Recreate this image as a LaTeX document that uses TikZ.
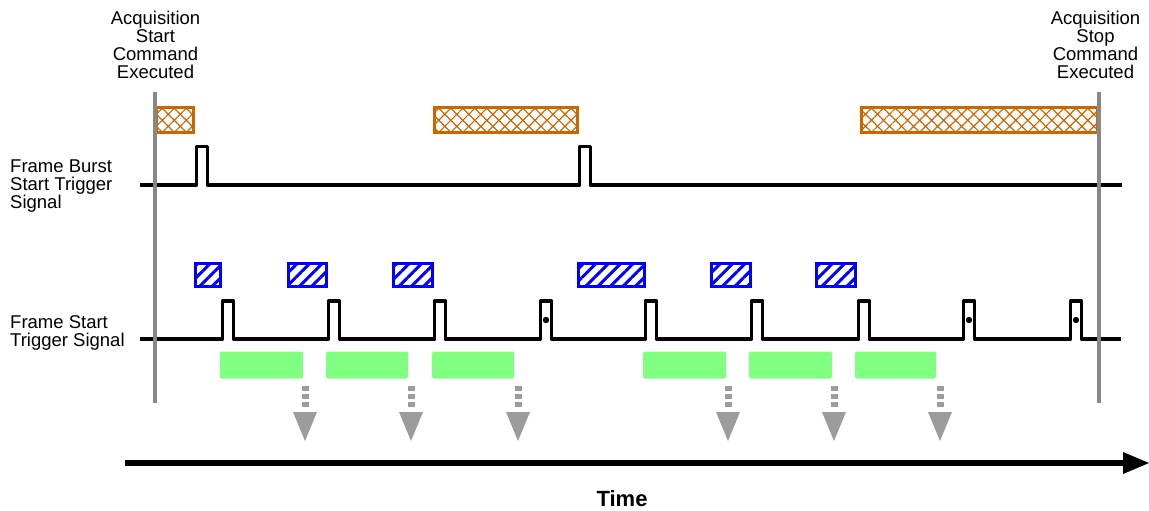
\documentclass[tikz,border=0pt]{standalone}
\usepackage{fontspec}
\setmainfont{Liberation Sans}
\usetikzlibrary{patterns.meta}
\definecolor{acqorange}{HTML}{CC6600}
\definecolor{sigblue}{HTML}{0000FF}
\definecolor{expgreen}{HTML}{80FF80}
\definecolor{cmdgray}{HTML}{888888}
\definecolor{arrgray}{HTML}{9C9C9C}
\begin{document}
\begin{tikzpicture}[x=1pt,y=-1pt,
  lbl/.style={font=\fontsize{18.5}{18}\selectfont, inner sep=0pt},
  sig/.style={line width=3.2pt, line join=round, line cap=butt},
  acqbox/.style={draw=acqorange, line width=3pt, pattern={Hatch[angle=45,distance=8.5pt,line width=1.2pt]}, pattern color=acqorange},
  trigbox/.style={draw=sigblue, line width=3pt, pattern={Lines[angle=45,distance=8.8pt,line width=3pt]}, pattern color=sigblue},
  expbox/.style={fill=expgreen, rounded corners=1.5pt},
  cmdline/.style={draw=cmdgray, line width=3.5pt},
  xferdash/.style={draw=arrgray, line width=7pt, dash pattern=on 4.5pt off 3.5pt},
  xferhead/.style={fill=arrgray}
]
\useasboundingbox (0,0) rectangle (1149,511);

% labels
\node[lbl, align=center, anchor=north] (startcmd) at (155.5,11) {Acquisition\\Start\\Command\\Executed};
\node[lbl, align=center, anchor=north] (stopcmd) at (1095.5,11) {Acquisition\\Stop\\Command\\Executed};
\node[lbl, align=left, anchor=north west] (burstlbl) at (10,160) {Frame Burst\\Start Trigger\\Signal};
\node[lbl, align=left, anchor=north west] (startlbl) at (10,315) {Frame Start\\Trigger Signal};
\node[font=\fontsize{22}{22}\selectfont\bfseries, inner sep=0pt] (time) at (622,499) {Time};

% acquisition (orange) boxes
\draw[acqbox] (156.5,107.5) rectangle (193.5,132.5);
\draw[acqbox] (434.5,107.5) rectangle (577,132.5);
\draw[acqbox] (861.5,107.5) rectangle (1097,132.5);

% frame burst start trigger signal
\draw[sig] (140,185)
  \foreach \p in {195,578} { -- (\p+1.5,185) -- (\p+1.5,146.5) -- (\p+12.5,146.5) -- (\p+12.5,185) }
  -- (1122,185);

% frame trigger wait (blue) boxes
\foreach \a/\b in {195.5/220.5, 288.5/326.5, 393.5/432.5, 578.5/644.5, 711.5/750.5, 816.5/855.5}
  \draw[trigbox] (\a,263.5) rectangle (\b,286.5);

% frame start trigger signal
\draw[sig] (140,339)
  \foreach \p in {221,327,433,539,644,750,857,962,1069} { -- (\p+1.5,339) -- (\p+1.5,301) -- (\p+12.5,301) -- (\p+12.5,339) }
  -- (1121,339);
\foreach \p in {539,962,1069}
  \fill (\p+7,320) circle (3.2pt);

% exposure (green) boxes
\foreach \a/\b in {220/303, 326/408, 432/514, 643/726, 749/832, 855/936}
  \fill[expbox] (\a,351.5) rectangle (\b,378.5);

% readout arrows
\foreach \c/\n in {305/1,411/2,518/3,728/4,834/5,940/6} {
  \coordinate (ar\n) at (\c,386);
  \coordinate (at\n) at (\c,441);
  \draw[xferdash] (ar\n) -- ++(0,21.5);
  \fill[xferhead] (\c-12,412) -- (\c+12,412) -- (at\n) -- cycle;
}

% command lines
\coordinate (c1t) at (155,92); \coordinate (c1b) at (155,403);
\coordinate (c2t) at (1099,92); \coordinate (c2b) at (1099,403);
\draw[cmdline] (c1t) -- (c1b);
\draw[cmdline] (c2t) -- (c2b);

% time axis
\coordinate (tstart) at (125,463);
\coordinate (tend) at (1149,463);
\draw[line width=6pt] (tstart) -- (1126,463);
\fill (1123,452) -- (tend) -- (1123,474) -- cycle;
\end{tikzpicture}
\end{document}
